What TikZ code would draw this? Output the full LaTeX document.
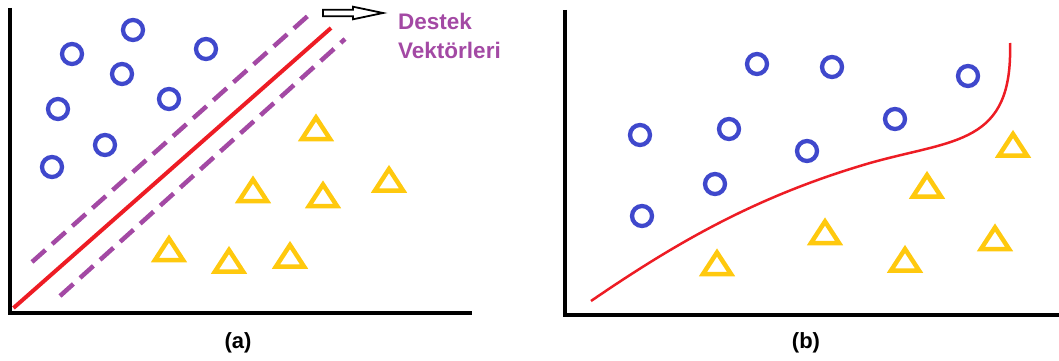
\documentclass[tikz,border=0pt]{standalone}
\usepackage{fontspec}
\setmainfont{Liberation Sans}
\usetikzlibrary{calc}
\definecolor{indigo}{HTML}{3F48CC}
\definecolor{gold}{HTML}{FFC90E}
\definecolor{plum}{HTML}{A349A4}
\definecolor{scarlet}{HTML}{ED1C24}

\begin{document}
\begin{tikzpicture}[
x=1pt, y=-1pt,
axis/.style={line width=4.5pt, line join=miter},
circ/.style={circle, draw=indigo, line width=4.3pt, minimum size=20pt, inner sep=0pt},
tri/.pic={\draw[gold, line width=4.5pt, line join=miter] (-14,11.5) -- (0,-10) -- (14,11.5) -- cycle;},
margin/.style={plum, line width=4.5pt, dash pattern=on 18pt off 9pt},
caption/.style={font=\fontsize{22}{26}\selectfont\bfseries}
]
\useasboundingbox (0,0) rectangle (1059,361);

% linear case
\draw[axis] (10,8) -- (10,313) -- (472,313);
\foreach \x/\y [count=\i] in {133/30,72/54,206/49,122/74,169/99,58/109,105/145,52/167}
	\node[circ] (a\i) at (\x,\y) {};
\foreach \x/\y in {316/127.5,253/189.5,323/194.5,389/179,169/248.5,229/260,290/255}
	\pic at (\x,\y) {tri};
\draw[margin] (32,262) -- (310,14);
\draw[margin] (60,296) -- (345,39);
\draw[scarlet, line width=4pt] (13.5,308) -- (331,28);

\node[plum, font=\fontsize{22.5}{29}\selectfont\bfseries, align=left, anchor=base west, inner sep=0pt] (sv) at (398,59) {Destek\\Vektörleri};
\coordinate (svtip) at (383,13);
\draw[line width=1.8pt, fill=white] (svtip) -- ++(-30,-6.3) -- ++(0,3) -- ++(-30,0) -- ++(0,6.6) -- ++(30,0) -- ++(0,3) -- cycle;
\node[caption] (la) at (238,343) {(a)};

% non-linear case
\draw[axis] (565,10) -- (565,315) -- (1059,315);
\foreach \x/\y [count=\i] in {757/64,832/67,968/76,640/135,729/129,895/119,807/151,715/184,642/216}
	\node[circ] (b\i) at (\x,\y) {};
\foreach \x/\y in {1013/144,927/185,825/231.5,717/262.5,905/259,995/237.5}
	\pic at (\x,\y) {tri};
\draw[scarlet, line width=2.5pt] (591,301) .. controls (680,240) and (760,195) .. (870,163)
	.. controls (955,139) and (1013,145) .. (1010,43);
\node[caption] (lb) at (806,343) {(b)};
\end{tikzpicture}
\end{document}
